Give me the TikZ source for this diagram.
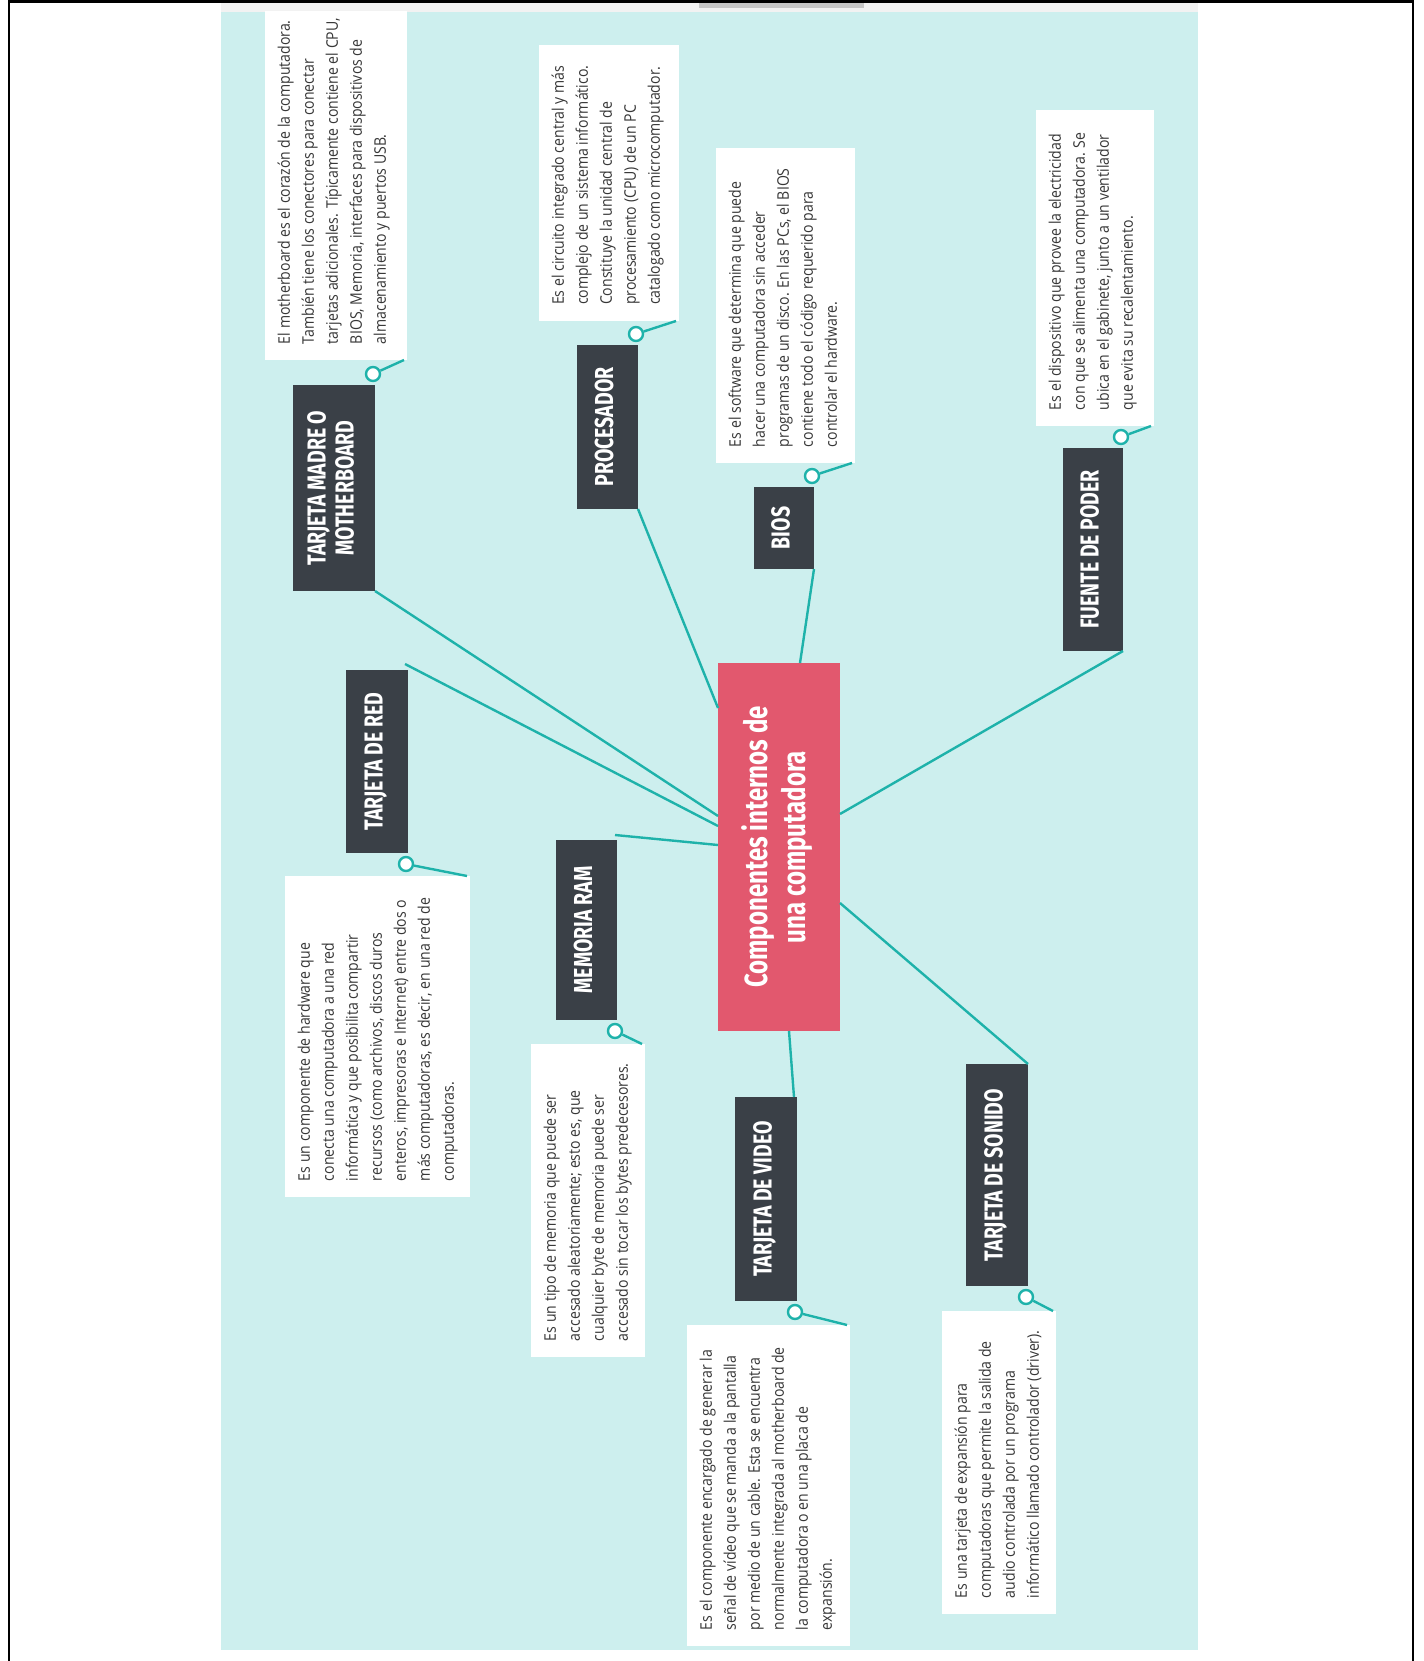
\documentclass[tikz,border=0pt]{standalone}
\usepackage{fontspec}
\usepackage{graphicx}
\usetikzlibrary{calc}
\newfontfamily\tagfont[FakeStretch=0.75]{Fira Sans}
\newfontfamily\descfont[FakeStretch=0.88]{Open Sans}
\definecolor{bgteal}{RGB}{205,239,238}
\definecolor{lineteal}{RGB}{30,178,170}
\definecolor{tagdark}{RGB}{58,64,71}
\definecolor{rose}{RGB}{226,88,110}
\definecolor{desctext}{RGB}{55,55,55}
\newcommand{\tagtext}[1]{\rotatebox{90}{\tagfont\bfseries\fontsize{26}{28}\selectfont\begin{tabular}{@{}c@{}}#1\end{tabular}}}
\newcommand{\desctext}[3]{\rotatebox{90}{\parbox[c][#1][t]{#2}{\descfont\fontsize{16}{24}\selectfont\begin{tabular}{@{}l@{}}#3\end{tabular}}}}
\begin{document}
\begin{tikzpicture}[x=1pt,y=-1pt,
  tagbox/.style={fill=tagdark,text=white,inner sep=0pt,outer sep=0pt},
  central/.style={fill=rose,text=white,inner sep=0pt,outer sep=0pt,minimum width=122pt,minimum height=368pt},
  descbox/.style={fill=white,text=desctext,inner xsep=8pt,inner ysep=16pt,outer sep=0pt,anchor=north west},
  knob/.style={circle,draw=lineteal,fill=white,line width=2.4pt,minimum size=14pt,inner sep=0pt},
  conn/.style={draw=lineteal,line width=2.4pt}]
\useasboundingbox (0,0) rectangle (1423,1661);
\fill[white] (0,0) rectangle (1423,1661);
% window frame
\draw[line width=2pt] (9,1661) -- (9,1) -- (1413,1) -- (1413,1661);
\draw[line width=4pt] (9,1) -- (1413,1);
\fill[gray!10] (221,3) rectangle (1198,12);
\fill[gray!45] (699,3) rectangle (864,8);
\begin{scope}
\clip (221,12) rectangle (1198,1650);
\fill[bgteal] (221,12) rectangle (1198,1650);
% central
\node[central] (c) at (779,847) {\rotatebox{90}{\tagfont\bfseries\fontsize{32}{38}\selectfont\begin{tabular}{@{}c@{}}Componentes internos de\\una computadora\end{tabular}}};
% tags
\node[tagbox,minimum width=82pt,minimum height=206pt] (mb) at (334,488) {\tagtext{TARJETA MADRE O\\MOTHERBOARD}};
\node[tagbox,minimum width=61pt,minimum height=164pt] (pr) at (607.5,427) {\tagtext{PROCESADOR}};
\node[tagbox,minimum width=60pt,minimum height=82pt] (bios) at (784,528) {\tagtext{BIOS}};
\node[tagbox,minimum width=60pt,minimum height=203pt] (fp) at (1093,549.5) {\tagtext{FUENTE DE PODER}};
\node[tagbox,minimum width=62pt,minimum height=183pt] (red) at (377,761.5) {\tagtext{TARJETA DE RED}};
\node[tagbox,minimum width=61pt,minimum height=180pt] (ram) at (586.5,930) {\tagtext{MEMORIA RAM}};
\node[tagbox,minimum width=62pt,minimum height=204pt] (vid) at (766,1199) {\tagtext{TARJETA DE VIDEO}};
\node[tagbox,minimum width=62pt,minimum height=222pt] (son) at (997,1175) {\tagtext{TARJETA DE SONIDO}};
% descriptions
\node[descbox] (mbd) at (265,0) {\desctext{126pt}{328pt}{El motherboard es el corazón de la computadora.\\También tiene los conectores para conectar\\tarjetas adicionales. Típicamente contiene el CPU,\\BIOS, Memoria, interfaces para dispositivos de\\almacenamiento y puertos USB.}};
\node[descbox] (prd) at (539,45) {\desctext{124pt}{244pt}{Es el circuito integrado central y más\\complejo de un sistema informático.\\Constituye la unidad central de\\procesamiento (CPU) de un PC\\catalogado como microcomputador.}};
\node[descbox] (biosd) at (716,148) {\desctext{123pt}{283pt}{Es el software que determina que puede\\hacer una computadora sin acceder\\programas de un disco. En las PCs, el BIOS\\contiene todo el código requerido para\\controlar el hardware.}};
\node[descbox] (fpd) at (1036,110) {\desctext{102pt}{284pt}{Es el dispositivo que provee la electricidad\\con que se alimenta una computadora. Se\\ubica en el gabinete, junto a un ventilador\\que evita su recalentamiento.}};
\node[descbox] (redd) at (285,876) {\desctext{169pt}{289pt}{Es un componente de hardware que\\conecta una computadora a una red\\informática y que posibilita compartir\\recursos (como archivos, discos duros\\enteros, impresoras e Internet) entre dos o\\más computadoras, es decir, en una red de\\computadoras.}};
\node[descbox] (ramd) at (531,1044) {\desctext{98pt}{281pt}{Es un tipo de memoria que puede ser\\accesado aleatoriamente; esto es, que\\cualquier byte de memoria puede ser\\accesado sin tocar los bytes predecesores.}};
\node[descbox] (vidd) at (687,1325) {\desctext{147pt}{289pt}{Es el componente encargado de generar la\\señal de vídeo que se manda a la pantalla\\por medio de un cable. Esta se encuentra\\normalmente integrada al motherboard de\\la computadora o en una placa de\\expansión.}};
\node[descbox] (sond) at (942,1311) {\desctext{98pt}{271pt}{Es una tarjeta de expansión para\\computadoras que permite la salida de\\audio controlada por un programa\\informático llamado controlador (driver).}};
% knobs
\node[knob] (mbk) at ($(mb.north east)+(-2,-11)$) {};
\node[knob] (prk) at ($(pr.north east)+(-2,-11)$) {};
\node[knob] (biosk) at ($(bios.north east)+(-2,-11)$) {};
\node[knob] (fpk) at ($(fp.north east)+(-2,-11)$) {};
\node[knob] (redk) at ($(red.south east)+(-2,11)$) {};
\node[knob] (ramk) at ($(ram.south east)+(-2,11)$) {};
\node[knob] (vidk) at ($(vid.south east)+(-2,11)$) {};
\node[knob] (sonk) at ($(son.south east)+(-2,11)$) {};
% knob to description
\draw[conn] (mbk) -- ($(mbd.south east)+(-3,0)$);
\draw[conn] (prk) -- ($(prd.south east)+(-3,0)$);
\draw[conn] (biosk) -- ($(biosd.south east)+(-3,0)$);
\draw[conn] (fpk) -- ($(fpd.south east)+(-3,0)$);
\draw[conn] (redk) -- ($(redd.north east)+(-3,0)$);
\draw[conn] (ramk) -- ($(ramd.north east)+(-3,0)$);
\draw[conn] (vidk) -- ($(vidd.north east)+(-3,0)$);
\draw[conn] (sonk) -- ($(sond.north east)+(-3,0)$);
% central to tags
\draw[conn] (mb.south east) -- ($(c.north west)+(0,153)$);
\draw[conn] (pr.south east) -- ($(c.north west)+(0,45)$);
\draw[conn] ($(red.north east)+(-3,-6)$) -- ($(c.north west)+(0,163)$);
\draw[conn] ($(ram.north east)+(-2,-5)$) -- ($(c.north west)+(0,182)$);
\draw[conn] (bios.south east) -- ($(c.north west)+(82,0)$);
\draw[conn] (fp.south east) -- ($(c.north east)+(0,151)$);
\draw[conn] (son.north east) -- ($(c.north east)+(0,240)$);
\draw[conn] ($(vid.north east)+(-3,0)$) -- ($(c.south west)+(71,0)$);
\end{scope}
\end{tikzpicture}
\end{document}
